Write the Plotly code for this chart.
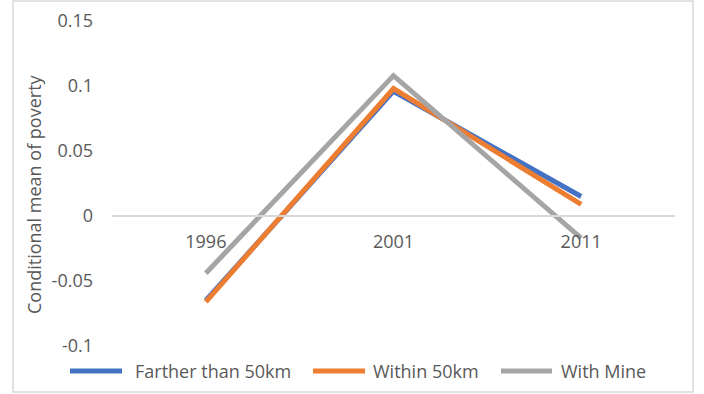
import plotly.graph_objects as go

years = ["1996", "2001", "2011"]
farther = [-0.065, 0.096, 0.015]
within = [-0.066, 0.098, 0.009]
with_mine = [-0.044, 0.108, -0.017]

series_names = ["Farther than 50km", "Within 50km", "With Mine"]
series_colors = ["#4472C4", "#ED7D31", "#A5A5A5"]

y_ticks = [-0.1, -0.05, 0, 0.05, 0.1, 0.15]
y_ticktext = ["-0.1", "-0.05", "0", "0.05", "0.1", "0.15"]

FONT = "Open Sans"
TXT = "#595959"
FS = 18

fig = go.Figure()
for name, vals, col in zip(series_names, [farther, within, with_mine], series_colors):
    fig.add_trace(go.Scatter(
        x=years, y=vals, name=name, mode="lines",
        line=dict(color=col, width=5), showlegend=False,
    ))

W, H = 704, 394
L, R, T, B = 112, 29, 21, 48
pw, ph = W - L - R, H - T - B

def px2paper_x(px):
    return (px - L) / pw

def px2paper_y(py):
    return (H - B - py) / ph

# custom legend (long line samples as in the reference)
leg_y = 371
leg_items = [(68, 124, 133), (311, 367, 371), (499, 554, 559)]
shapes = [dict(
    type="rect", xref="paper", yref="paper",
    x0=px2paper_x(13), x1=px2paper_x(693),
    y0=px2paper_y(392), y1=px2paper_y(1),
    line=dict(color="#D9D9D9", width=1.5), fillcolor="rgba(0,0,0,0)",
    layer="below",
)]
annotations = [dict(
    text="Conditional mean of poverty", textangle=-90,
    xref="paper", yref="paper",
    x=px2paper_x(34), y=px2paper_y(194),
    xanchor="center", yanchor="middle", showarrow=False,
    font=dict(size=FS, color=TXT),
)]
for (x0, x1, tx), name, col in zip(leg_items, series_names, series_colors):
    shapes.append(dict(
        type="line", xref="paper", yref="paper",
        x0=px2paper_x(x0 + 2), x1=px2paper_x(x1 - 2),
        y0=px2paper_y(leg_y), y1=px2paper_y(leg_y),
        line=dict(color=col, width=5),
    ))
    annotations.append(dict(
        text=name, xref="paper", yref="paper",
        x=px2paper_x(tx), y=px2paper_y(leg_y),
        xanchor="left", yanchor="middle", showarrow=False,
        font=dict(size=FS, color=TXT),
    ))

fig.update_layout(
    width=W, height=H,
    margin=dict(l=L, r=R, t=T, b=B, autoexpand=False),
    paper_bgcolor="white", plot_bgcolor="white",
    font=dict(family=FONT, size=FS, color=TXT),
    showlegend=False,
    xaxis=dict(
        type="category", range=[-0.5, 2.5],
        showgrid=False, zeroline=False,
        showline=True, linecolor="#D9D9D9", linewidth=1.5,
        anchor="free", position=0.4,
        ticks="", ticklabelstandoff=10, automargin=False,
    ),
    yaxis=dict(
        range=[-0.1, 0.15], tickvals=y_ticks, ticktext=y_ticktext,
        showgrid=False, zeroline=False, showline=False,
        ticks="", ticklabelstandoff=18, automargin=False,
    ),
    annotations=annotations,
    shapes=shapes,
)

fig.write_html(
    "out.html",
    config={"displayModeBar": False},
    post_script="document.body.style.margin='0';document.body.style.overflow='hidden';",
)
